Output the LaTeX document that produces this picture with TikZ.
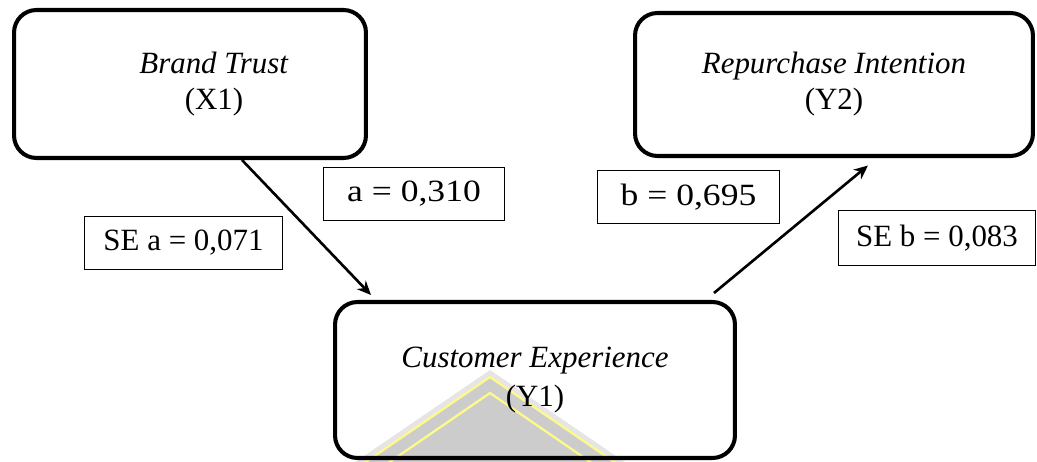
\documentclass[tikz,border=0pt]{standalone}
\usepackage{fontspec}
\setmainfont{Liberation Serif}
\newfontfamily\eqfont[FakeStretch=1.15]{Liberation Serif}
\usetikzlibrary{arrows.meta}
\def\varsize{\fontsize{17.6}{20.5}\selectfont}
\def\wmark{\fill[gray!20] (490,370) -- (345,469) -- (635,469) -- cycle;}

\begin{document}
\begin{tikzpicture}[x=0.02cm,y=-0.02cm,
    var/.style={draw,line width=2.3pt,rounded corners=0.45cm,inner sep=0pt},
    coef/.style={draw,line width=0.6pt,minimum height=1.06cm,inner sep=0pt},
    path/.style={line width=1.5pt,-{Stealth[length=8pt,width=7pt]}},
    font=\varsize]
    \useasboundingbox (0,0) rectangle (1037,462);
    % watermark behind Y1
    \begin{scope}
        \clip (0,0) rectangle (1037,462);
        \wmark
        \fill[gray!40] (490,377) -- (354,470) -- (626,470) -- cycle;
        \draw[yellow!45!white,line width=1.3pt] (354,470) -- (490,377) -- (626,470);
        \draw[yellow!45!white,line width=1.3pt] (378,470) -- (490,393) -- (602,470);
    \end{scope}
    % variables
    \node[var,minimum width=7.04cm,minimum height=2.96cm] (bt) at (190,84) {};
    \node[align=center] (btname) at (214,84) {\textit{Brand Trust}\\(X1)};
    \node[var,minimum width=7.96cm,minimum height=2.86cm,align=center] (ri) at (834,84.5) {\textit{Repurchase Intention}\\(Y2)};
    \node[var,minimum width=8cm,minimum height=3.12cm,align=center] (ce) at (535,380) {\textit{Customer Experience}\\[2pt](Y1)};
    % coefficients
    \node[coef,minimum width=3.62cm] (a) at (414,194) {\eqfont a = 0,310};
    \node[coef,minimum width=3.96cm] (sea) at (183.5,243) {SE a = 0,071};
    \node[coef,minimum width=3.64cm] (b) at (688.5,197) {\eqfont b = 0,695};
    \node[coef,minimum width=3.94cm,minimum height=1.1cm] (seb) at (937,238) {SE b = 0,083};
    % paths
    \draw[path] ([xshift=1.04cm]bt.south) -- ([xshift=0.76cm,yshift=0.1cm]ce.north west);
    \draw[path] ([xshift=-0.46cm,yshift=0.14cm]ce.north east) -- ([xshift=0.68cm,yshift=-0.15cm]ri.south);
\end{tikzpicture}
\end{document}
